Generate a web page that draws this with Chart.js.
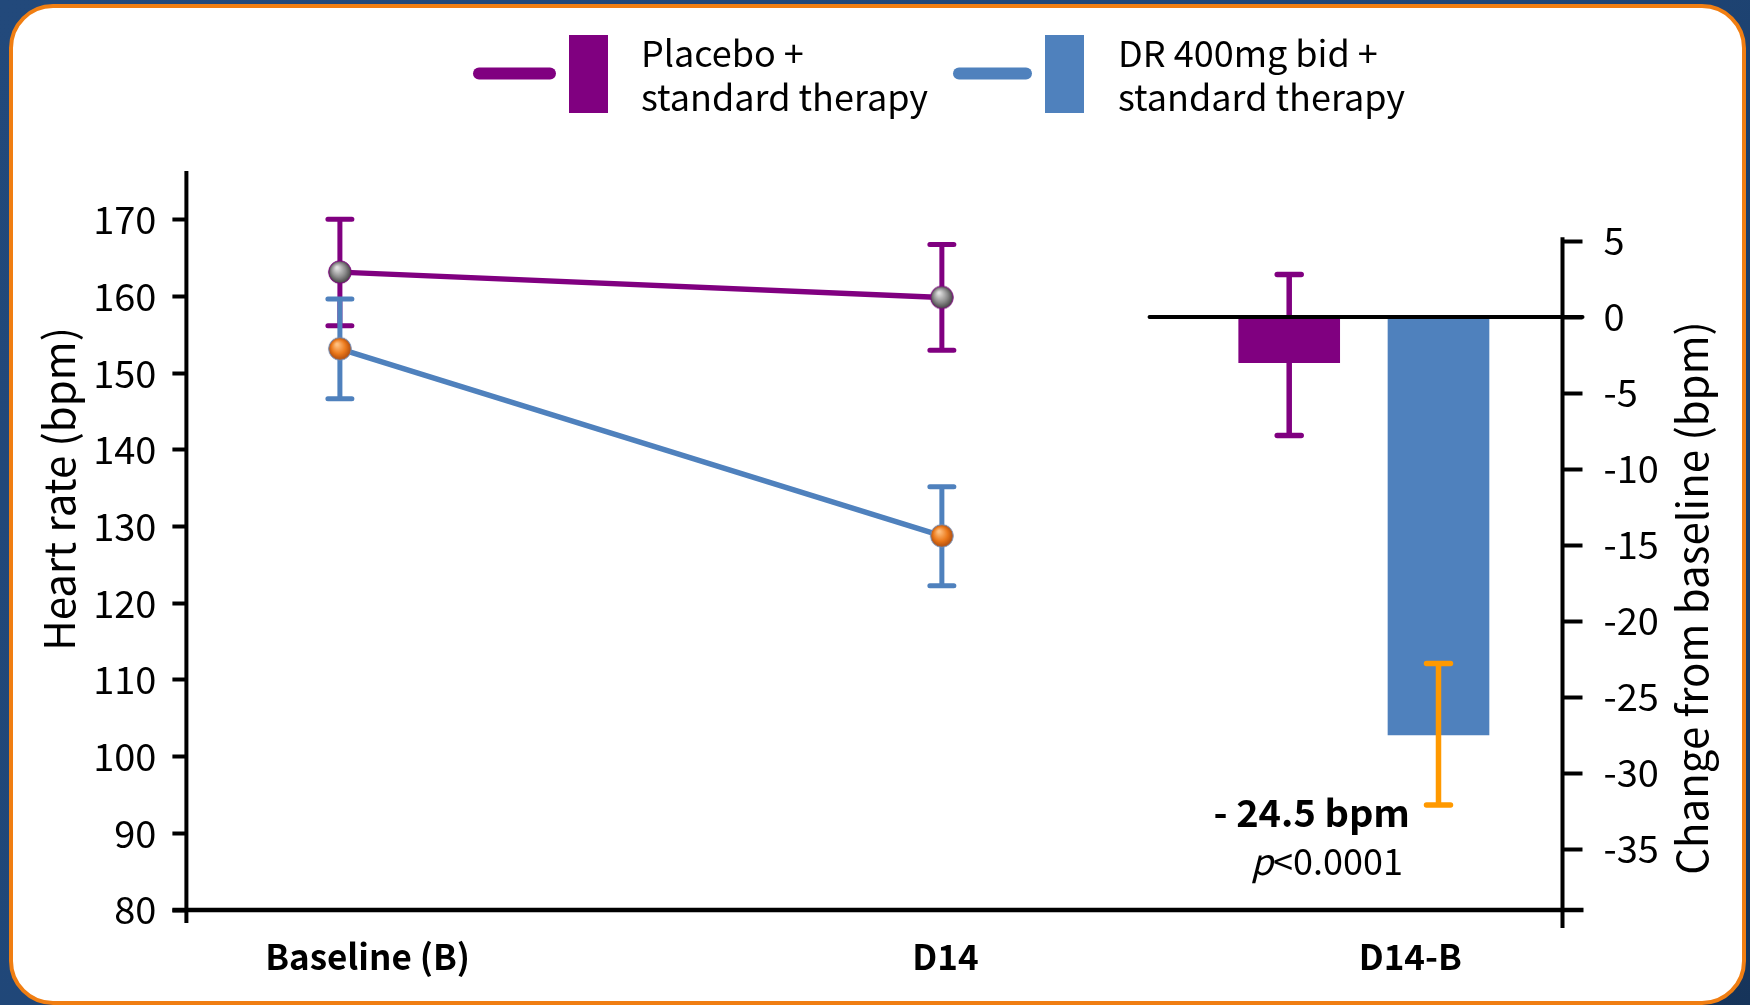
<!DOCTYPE html>
<html>
<head>
<meta charset="utf-8">
<script src="https://cdn.jsdelivr.net/npm/chart.js@4.4.1/dist/chart.umd.min.js"></script>
<style>
  html, body { margin: 0; padding: 0; width: 1750px; height: 1005px; overflow: hidden;
    background: linear-gradient(135deg, #22497b 0%, #1f4677 55%, #16345a 100%); }
  #card { position: absolute; left: 9px; top: 4px; width: 1729px; height: 993px;
    border: 4px solid #f07e12; border-radius: 44px; background: #ffffff; }
  #c { position: absolute; left: 0; top: 0; }
</style>
</head>
<body>
<div id="card"></div>
<canvas id="c" width="1750" height="1005"></canvas>
<script>
// ---- data ----
const categories = ['Baseline (B)', 'D14', 'D14-B'];
const seriesNames = [['Placebo +', 'standard therapy'], ['DR 400mg bid +', 'standard therapy']];

// heart rate (bpm): mean, lower and upper error-bar ends at Baseline and D14
const placeboHR     = [163.2, 159.9];
const placeboHRLow  = [156.2, 153.0];
const placeboHRHigh = [170.1, 166.8];
const drHR          = [153.2, 128.8];
const drHRLow       = [146.7, 122.3];
const drHRHigh      = [159.7, 135.2];

// change from baseline at D14 (bpm): placebo, DR
const changeValues = [-3.0, -27.5];
const changeLow    = [-7.8, -32.1];
const changeHigh   = [2.8, -22.8];

const hrTicks     = [80, 90, 100, 110, 120, 130, 140, 150, 160, 170];
const changeTicks = [5, 0, -5, -10, -15, -20, -25, -30, -35];

// ---- layout ----
const timeX  = [0, 1];          // Baseline, D14 on the x scale
const barX   = [1.577, 1.825];  // placebo / DR change bars
const labelX = [0.046, 1.006, 1.778];

const PURPLE = '#800080', BLUE = '#4f81bd', ORANGE = '#ff9900';
const F = '"Noto Sans CJK KR", "Noto Sans", sans-serif';

function sphere(inner, mid, outer, edge) {
  const c = document.createElement('canvas');
  c.width = 26; c.height = 26;
  const g = c.getContext('2d');
  const grad = g.createRadialGradient(10, 8.5, 1, 13, 13, 12);
  grad.addColorStop(0, inner);
  grad.addColorStop(0.55, mid);
  grad.addColorStop(1, outer);
  g.beginPath(); g.arc(13, 13, 11.3, 0, Math.PI * 2);
  g.fillStyle = grad; g.fill();
  g.lineWidth = 1; g.strokeStyle = edge; g.stroke();
  return c;
}
const grayDot = sphere('#e0e0e0', '#8c8c8c', '#3a3a3a', PURPLE);
const orangeDot = sphere('#ffc080', '#ec7a1c', '#a8460a', '#6d8fbf');

function errBar(ctx, x, y1, y2, color, lw, cap) {
  ctx.save();
  ctx.strokeStyle = color; ctx.lineWidth = lw; ctx.lineCap = 'round';
  ctx.beginPath();
  ctx.moveTo(x, y1); ctx.lineTo(x, y2);
  ctx.moveTo(x - cap, y1); ctx.lineTo(x + cap, y1);
  ctx.moveTo(x - cap, y2); ctx.lineTo(x + cap, y2);
  ctx.stroke();
  ctx.restore();
}

const decor = {
  id: 'decor',
  beforeDatasetsDraw(chart) {
    const { ctx, scales: { x, y } } = chart;
    const groups = [[placeboHRLow, placeboHRHigh, PURPLE], [drHRLow, drHRHigh, BLUE]];
    groups.forEach(([lo, hi, col]) => {
      timeX.forEach((tx, i) => {
        errBar(ctx, x.getPixelForValue(tx), y.getPixelForValue(hi[i]), y.getPixelForValue(lo[i]), col, 5, 12);
      });
    });
  },
  afterDatasetsDraw(chart) {
    const { ctx, chartArea: a, scales: { x, y2 } } = chart;
    // change error bars
    const cols = [PURPLE, ORANGE];
    barX.forEach((bx, i) => {
      errBar(ctx, x.getPixelForValue(bx), y2.getPixelForValue(changeHigh[i]), y2.getPixelForValue(changeLow[i]), cols[i], 5.5, 12);
    });
    ctx.save();
    ctx.strokeStyle = '#000'; ctx.lineCap = 'round';
    // zero line of the change axis
    ctx.lineWidth = 4;
    const z = y2.getPixelForValue(0);
    ctx.beginPath(); ctx.moveTo(x.getPixelForValue(1.345), z); ctx.lineTo(a.right + 20, z); ctx.stroke();
    ctx.lineCap = 'butt';
    // axis lines
    ctx.beginPath(); ctx.moveTo(a.left, a.top); ctx.lineTo(a.left, a.bottom + 13); ctx.stroke();
    ctx.beginPath(); ctx.moveTo(a.right, y2.getPixelForValue(5.25)); ctx.lineTo(a.right, a.bottom + 18); ctx.stroke();
    ctx.lineWidth = 4.5;
    ctx.beginPath(); ctx.moveTo(a.left - 14, a.bottom); ctx.lineTo(a.right + 21, a.bottom); ctx.stroke();
    ctx.restore();
  },
  afterDraw(chart) {
    const { ctx } = chart;
    ctx.save();
    ctx.fillStyle = '#000';
    // legend
    const items = [
      { line: [473, 556], box: 569, text: 641, col: PURPLE, name: seriesNames[0] },
      { line: [953, 1032], box: 1045, text: 1118, col: BLUE, name: seriesNames[1] }
    ];
    items.forEach(it => {
      ctx.strokeStyle = it.col; ctx.lineWidth = 12; ctx.lineCap = 'round';
      ctx.beginPath(); ctx.moveTo(it.line[0] + 6, 73.5); ctx.lineTo(it.line[1] - 6, 73.5); ctx.stroke();
      ctx.fillStyle = it.col; ctx.fillRect(it.box, 35, 39, 78);
      ctx.fillStyle = '#000';
      ctx.font = `36px ${F}`; ctx.textAlign = 'left'; ctx.textBaseline = 'alphabetic';
      ctx.fillText(it.name[0], it.text, 67);
      ctx.fillText(it.name[1], it.text, 111);
    });
    // axis titles
    ctx.font = `42px ${F}`; ctx.textAlign = 'center'; ctx.textBaseline = 'alphabetic';
    ctx.save(); ctx.translate(75, 489); ctx.rotate(-Math.PI / 2);
    ctx.fillText('Heart rate (bpm)', 0, 0); ctx.restore();
    ctx.save(); ctx.translate(1708, 598); ctx.rotate(-Math.PI / 2);
    ctx.fillText('Change from baseline (bpm)', 0, 0); ctx.restore();
    // difference annotation
    const diff = changeValues[1] - changeValues[0];
    ctx.textAlign = 'right';
    ctx.font = `bold 38px ${F}`;
    ctx.fillText('- ' + Math.abs(diff).toFixed(1) + ' bpm', 1410, 827);
    ctx.font = `36px ${F}`;
    const rest = '<0.0001';
    const wRest = ctx.measureText(rest).width;
    ctx.fillText(rest, 1403, 875);
    ctx.font = `italic 36px ${F}`;
    ctx.fillText('p', 1403 - wRest, 875);
    ctx.restore();
  }
};

new Chart(document.getElementById('c'), {
  type: 'bar',
  data: {
    datasets: [
      {
        type: 'line', label: seriesNames[0].join(' '), yAxisID: 'y',
        data: timeX.map((tx, i) => ({ x: tx, y: placeboHR[i] })),
        borderColor: PURPLE, borderWidth: 5.5, pointStyle: grayDot, tension: 0, order: 2
      },
      {
        type: 'line', label: seriesNames[1].join(' '), yAxisID: 'y',
        data: timeX.map((tx, i) => ({ x: tx, y: drHR[i] })),
        borderColor: BLUE, borderWidth: 5.5, pointStyle: orangeDot, tension: 0, order: 1
      },
      {
        type: 'bar', label: 'Change from baseline', yAxisID: 'y2',
        data: barX.map((bx, i) => ({ x: bx, y: changeValues[i] })),
        backgroundColor: [PURPLE, BLUE], borderWidth: 0, barThickness: 101, order: 3
      }
    ]
  },
  options: {
    responsive: false, animation: false, devicePixelRatio: 1, events: [],
    layout: { padding: { top: 171, left: 0, right: 0, bottom: 0 } },
    plugins: { legend: { display: false }, tooltip: { enabled: false } },
    scales: {
      x: {
        type: 'linear', min: -0.255, max: 2.031, offset: false,
        afterBuildTicks: s => { s.ticks = labelX.map(v => ({ value: v })); },
        afterFit: s => { s.height = 95; },
        ticks: { autoSkip: false, maxRotation: 0, padding: 26, color: '#000',
          font: { family: F, size: 35, weight: 'bold' },
          callback: (v, i) => categories[i] },
        grid: { display: false, drawTicks: false, offset: false }, border: { display: false }
      },
      y: {
        position: 'left', min: 80, max: 176.39,
        afterBuildTicks: s => { s.ticks = hrTicks.map(v => ({ value: v })); },
        afterFit: s => { s.width = 186.4; },
        ticks: { padding: 16, color: '#000', font: { family: F, size: 38 } },
        grid: { drawOnChartArea: false, tickLength: 14, tickWidth: 4, tickColor: '#000' },
        border: { display: false }
      },
      y2: {
        position: 'right', min: -39.01, max: 9.605,
        afterBuildTicks: s => { s.ticks = changeTicks.map(v => ({ value: v })); },
        afterFit: s => { s.width = 187.5; },
        ticks: { padding: 21, color: '#000', font: { family: F, size: 38 } },
        grid: { drawOnChartArea: false, tickLength: 20, tickWidth: 4, tickColor: '#000' },
        border: { display: false }
      }
    }
  },
  plugins: [decor]
});
</script>
</body>
</html>
